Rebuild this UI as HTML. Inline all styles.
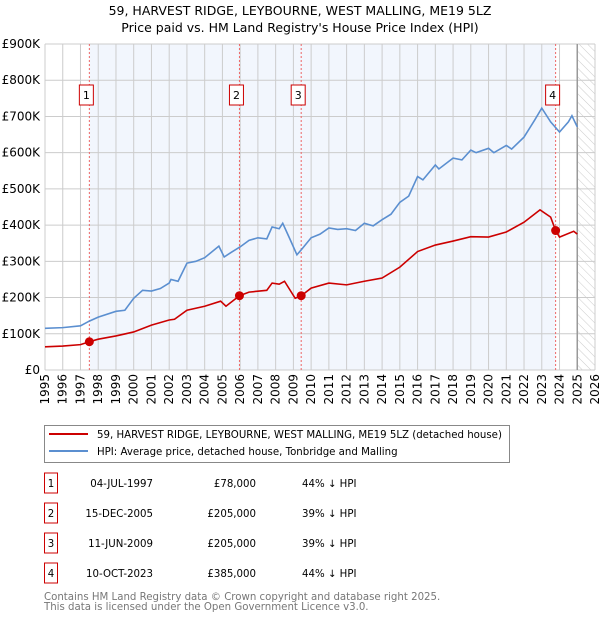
<!DOCTYPE html>
<html><head><meta charset="utf-8"><style>
body{margin:0;background:#fff;font-family:"DejaVu Sans","Liberation Sans",sans-serif;}
svg text{font-family:"DejaVu Sans","Liberation Sans",sans-serif;}
</style></head><body>
<svg id="c" width="600" height="620" xmlns="http://www.w3.org/2000/svg">
<defs><pattern id="hatch" width="6" height="6" patternUnits="userSpaceOnUse" patternTransform="rotate(-45)"><line x1="0" y1="0" x2="0" y2="6" stroke="#ccc" stroke-width="1"/></pattern></defs>
<text x="300" y="15" text-anchor="middle" font-size="12.5" fill="#000">59, HARVEST RIDGE, LEYBOURNE, WEST MALLING, ME19 5LZ</text>
<text x="300" y="32" text-anchor="middle" font-size="12.5" fill="#000">Price paid vs. HM Land Registry's House Price Index (HPI)</text>
<g id="plot"></g>
<g>
<rect x="44.5" y="425.5" width="465" height="37" fill="#fff" stroke="#888"/>
<line x1="49" y1="434" x2="88" y2="434" stroke="#cc0000" stroke-width="2"/>
<text x="97" y="438" font-size="10.2">59, HARVEST RIDGE, LEYBOURNE, WEST MALLING, ME19 5LZ (detached house)</text>
<line x1="49" y1="451" x2="88" y2="451" stroke="#5b8fd0" stroke-width="2"/>
<text x="97" y="455" font-size="10.2">HPI: Average price, detached house, Tonbridge and Malling</text>
</g>
<g id="table" font-size="10.2"></g>
<text x="44" y="600" font-size="10.2" fill="#777">Contains HM Land Registry data © Crown copyright and database right 2025.</text>
<text x="44" y="610" font-size="10.2" fill="#777">This data is licensed under the Open Government Licence v3.0.</text>
</svg>
<script>
const yearTicks=[1995,1996,1997,1998,1999,2000,2001,2002,2003,2004,2005,2006,2007,2008,2009,2010,2011,2012,2013,2014,2015,2016,2017,2018,2019,2020,2021,2022,2023,2024,2025,2026];
const priceTicks=[0,100,200,300,400,500,600,700,800,900];
const priceTickLabels=["£0","£100K","£200K","£300K","£400K","£500K","£600K","£700K","£800K","£900K"];
const hpiYears=[1995,1996,1997,1997.5,1998,1999,1999.5,2000,2000.5,2001,2001.5,2002,2002.1,2002.5,2003,2003.5,2004,2004.8,2005.1,2005.5,2006,2006.5,2007,2007.5,2007.8,2008.2,2008.4,2008.8,2009.2,2009.5,2010,2010.5,2011,2011.5,2012,2012.5,2013,2013.5,2014,2014.5,2015,2015.5,2016,2016.3,2017,2017.2,2018,2018.5,2019,2019.3,2020,2020.3,2021,2021.3,2022,2022.6,2023,2023.5,2024,2024.5,2024.7,2025];
const hpiValues=[115,117,122,135,146,162,165,198,220,218,225,240,250,245,295,300,310,342,312,325,340,358,365,362,395,390,405,362,318,335,365,375,392,388,390,385,405,398,415,430,463,480,534,525,566,555,585,580,607,600,612,600,620,610,643,690,723,685,657,685,702,671];
const ppYears=[1995,1996,1997,1997.5,1998,1999,2000,2001,2002,2002.3,2003,2004,2004.9,2005.2,2005.96,2006.5,2007.5,2007.8,2008.2,2008.5,2009.1,2009.44,2010,2011,2012,2013,2014,2015,2016,2017,2018,2019,2020,2021,2022,2022.9,2023.5,2023.78,2024,2024.8,2025];
const ppValues=[64,66,70,78,85,94,105,124,138,140,165,176,190,176,205,215,220,240,237,245,198,205,226,240,235,245,254,284,327,345,356,368,367,381,408,442,422,385,367,383,375];
const saleYears=[1997.5,2005.96,2009.44,2023.78];
const salePrices=[78,205,205,385];
const saleDates=["04-JUL-1997","15-DEC-2005","11-JUN-2009","10-OCT-2023"];
const salePriceLabels=["£78,000","£205,000","£205,000","£385,000"];
const saleDiffs=["44% ↓ HPI","39% ↓ HPI","39% ↓ HPI","44% ↓ HPI"];

const X0=45,X1=595,Y0=370,Y1=44;
const xs=y=>X0+(y-1995)*(X1-X0)/31;
const ys=v=>Y0-v*(Y0-Y1)/900;
const NS="http://www.w3.org/2000/svg";
const plot=document.getElementById('plot');
function mk(tag,attrs,parent){const e=document.createElementNS(NS,tag);for(const k in attrs)e.setAttribute(k,attrs[k]);(parent||plot).appendChild(e);return e;}

let e;
e=mk('rect',{x:xs(saleYears[0]),y:Y1,width:xs(saleYears[3])-xs(saleYears[0]),height:Y0-Y1,fill:'#f2f6fd'});


e=mk('rect',{x:xs(2025),y:Y1,width:xs(2026)-xs(2025),height:Y0-Y1,fill:'url(#hatch)'});


yearTicks.forEach(y=>{
 e=mk('line',{x1:xs(y),x2:xs(y),y1:Y1,y2:Y0,stroke:'#ccc','stroke-width':1});
 
 
 e=mk('text',{x:0,y:0,'font-size':12,'text-anchor':'end',transform:`translate(${xs(y)+4},${Y0+4}) rotate(-90)`});
 e.textContent=y;
 
 
});
priceTicks.forEach((v,i)=>{
 e=mk('line',{x1:X0,x2:X1,y1:ys(v),y2:ys(v),stroke:'#ccc','stroke-width':1});
 
 
 e=mk('text',{x:40,y:ys(v)+4,'font-size':12,'text-anchor':'end'});
 e.textContent=priceTickLabels[i];
 
 
});
e=mk('line',{x1:xs(2025),x2:xs(2025),y1:Y1,y2:Y0,stroke:'#999','stroke-width':1.5});


saleYears.forEach((y,i)=>{
 e=mk('line',{x1:xs(y),x2:xs(y),y1:Y1,y2:Y0,stroke:'#e66','stroke-width':1,'stroke-dasharray':'2,2'});
 
 
});
e=mk('polyline',{points:hpiYears.map((y,i)=>xs(y)+','+ys(hpiValues[i])).join(' '),fill:'none',stroke:'#5b8fd0','stroke-width':1.6});


e=mk('polyline',{points:ppYears.map((y,i)=>xs(y)+','+ys(ppValues[i])).join(' '),fill:'none',stroke:'#cc0000','stroke-width':1.6});


saleYears.forEach((y,i)=>{
 e=mk('circle',{cx:xs(y),cy:ys(salePrices[i]),r:4.5,fill:'#cc0000'});
 
 
 e=mk('rect',{x:xs(y)-10,y:85,width:14,height:20,fill:'#fff',stroke:'#cc0000'});
 
 
 e=mk('text',{x:xs(y)-3,y:99,'font-size':11,'text-anchor':'middle'});
 e.textContent=i+1;
 
 
});
const tbl=document.getElementById('table');
saleYears.forEach((y,i)=>{
 const cy=483+i*30;
 e=mk('rect',{x:44.5,y:cy-10,width:13,height:20,fill:'#fff',stroke:'#cc0000'},tbl);
 
 
 e=mk('text',{x:51,y:cy+4,'text-anchor':'middle'},tbl);
 e.textContent=i+1;
 
 
 e=mk('text',{x:153,y:cy+4,'text-anchor':'end'},tbl);
 e.textContent=saleDates[i];
 
 
 e=mk('text',{x:256,y:cy+4,'text-anchor':'end'},tbl);
 e.textContent=salePriceLabels[i];
 
 
 e=mk('text',{x:302,y:cy+4},tbl);
 e.textContent=saleDiffs[i];
 
 
});
</script>
</body></html>
